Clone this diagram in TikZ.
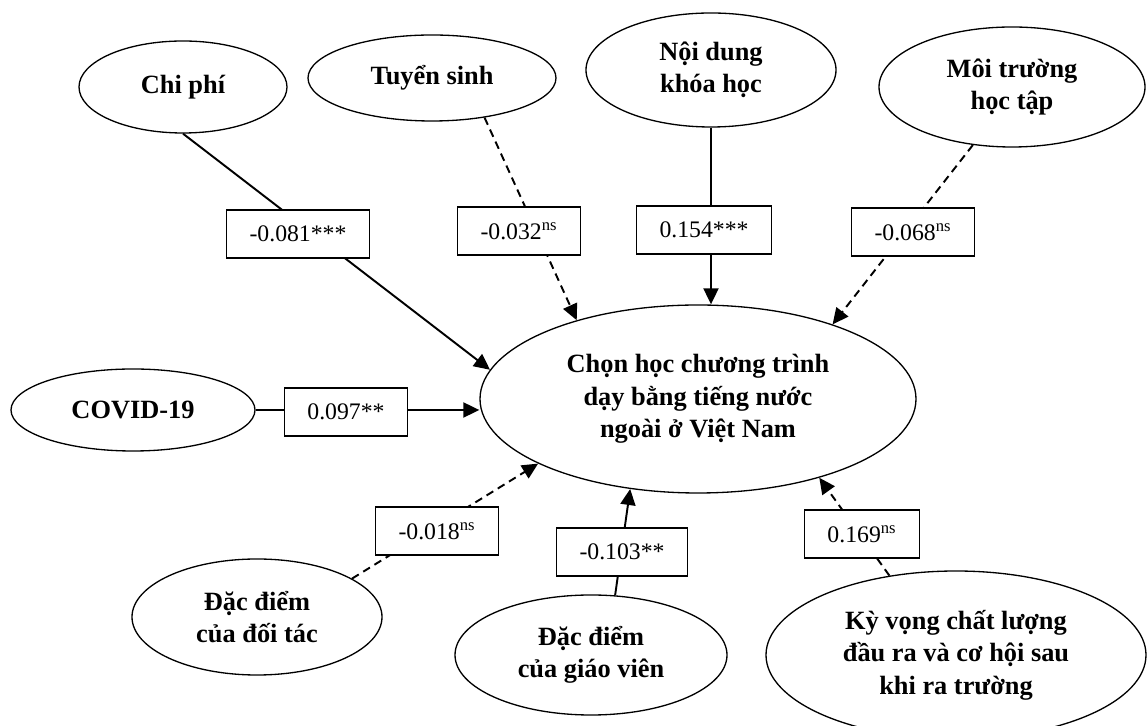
\documentclass[tikz,border=0pt]{standalone}
\usepackage{fontspec}
\setmainfont{Liberation Serif}
\usetikzlibrary{arrows.meta,shapes.geometric}

\begin{document}
\begin{tikzpicture}[
    fac/.style={ellipse, draw, line width=0.75pt, inner sep=0pt, align=center,
                font=\fontsize{15}{18.5}\selectfont\bfseries},
    coef/.style={rectangle, draw, line width=0.85pt, fill=white, inner xsep=0.46cm,
                 minimum height=0.96cm, font=\fontsize{13.5}{16}\selectfont},
    sig/.style={line width=1.1pt, -{Triangle[length=0.32cm, width=0.3cm]}},
    nsig/.style={sig, dash pattern=on 4.5pt off 3pt}]

\useasboundingbox (0,0) rectangle (22.94,14.52);

% factors
\node[fac, minimum width=4.16cm, minimum height=1.84cm] (chi) at (3.66,12.78) {Chi phí};
\node[fac, minimum width=4.96cm, minimum height=1.72cm] (tus) at (8.64,12.96) {Tuyển sinh};
\node[fac, minimum width=5.0cm, minimum height=2.28cm] (ndg) at (14.22,13.12) {Nội dung\\khóa học};
\node[fac, minimum width=5.32cm, minimum height=2.4cm] (mtr) at (20.24,12.78) {Môi trường\\học tập};
\node[fac, minimum width=4.88cm, minimum height=1.64cm] (cov) at (2.66,6.32) {COVID-19};
\node[fac, minimum width=5.0cm, minimum height=2.32cm] (dtc) at (5.14,2.18) {Đặc điểm\\của đối tác};
\node[fac, minimum width=5.44cm, minimum height=2.4cm] (gvn) at (11.82,1.42) {Đặc điểm\\của giáo viên};
\node[fac, minimum width=7.6cm, minimum height=3.36cm] (kvg) at (19.12,1.42)
    {Kỳ vọng chất lượng\\đầu ra và cơ hội sau\\khi ra trường};
\node[fac, minimum width=8.72cm, minimum height=3.76cm] (ctr) at (13.96,6.54)
    {Chọn học chương trình\\dạy bằng tiếng nước\\ngoài ở Việt Nam};

% paths
\draw[sig]  (chi.south) -- (ctr.172);
\draw[nsig] (tus.-37) -- (ctr.147);
\draw[sig]  (ndg.south) -- (ndg.south |- ctr.north);
\draw[nsig] (mtr.236) -- (ctr.29);
\draw[sig]  (cov.east) -- (cov.east -| ctr.west);
\draw[nsig] (dtc.22) -- (ctr.202);
\draw[sig]  (gvn.68) -- (ctr.233);
\draw[nsig] (kvg.130) -- (ctr.327);

% coefficients
\foreach \n/\x/\y/\t in {b1/5.96/9.84/{-0.081***},
                         b2/10.38/9.90/{-0.032\textsuperscript{ns}},
                         b3/14.08/9.92/{0.154***},
                         b4/18.26/9.88/{-0.068\textsuperscript{ns}},
                         b5/6.92/6.28/{0.097**},
                         b6/8.74/3.90/{-0.018\textsuperscript{ns}},
                         b7/12.44/3.48/{-0.103**},
                         b8/17.24/3.84/{0.169\textsuperscript{ns}}} {
    \node[coef] (\n) at (\x,\y) {\t};
}
\end{tikzpicture}
\end{document}
